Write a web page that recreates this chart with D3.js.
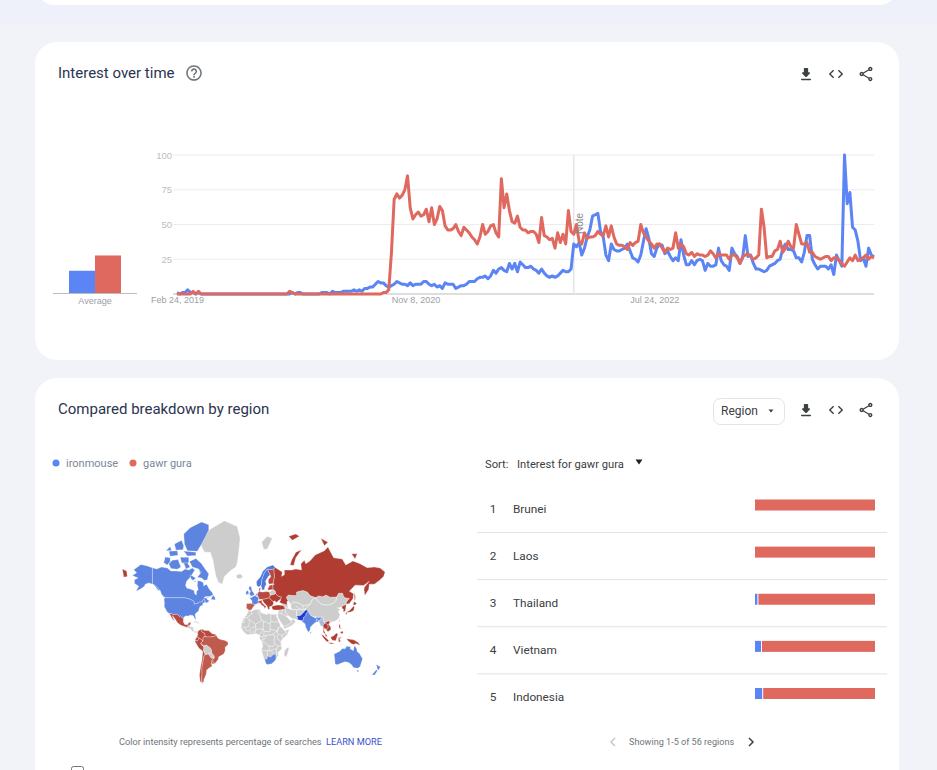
<!DOCTYPE html>
<html><head><meta charset="utf-8">
<script src="https://cdn.jsdelivr.net/npm/d3@7"></script>
<style>
html,body{margin:0;padding:0;background:#f1f3f8;overflow:hidden}
svg{display:block}
text{font-family:Roboto,sans-serif}
.ax text{font-family:"Liberation Sans",Arial,sans-serif}
</style></head><body><svg id="c" width="937" height="770"></svg>
<script>
// ---------- data ----------
const startDate = new Date(2019,1,24);
const ironmouse = [
1,0,1,1,3,1,1,0,1,0, 0,0,0,0,0,0,0,0,0,0, 0,0,0,0,0,0,0,0,0,0, 0,0,0,0,0,0,0,0,0,0,
0,0,0,1,0,1,1,0,0,0, 0,0,0,0,1,1,1,0,2,1, 1,1,2,2,2,2,3,2,3,2, 4,4,5,5,7,9,8,8,6,5,
6,7,9,8,7,7,6,8,6,7, 7,7,9,9,7,6,7,5,6,4, 8,7,7,7,4,5,6,6,7,9, 9,9,11,12,12,13,11,13,17,15,
18,19,17,16,22,18,22,16,23,21, 19,19,20,18,17,15,18,15,13,12, 13,12,13,15,17,16,16,18,36,34,
37,28,33,41,46,56,57,58,45,41, 28,24,36,32,31,31,32,33,36,31, 26,25,23,28,38,47,40,29,27,33,
36,35,29,31,27,24,26,24,39,28, 21,21,24,21,24,25,24,17,22,20, 20,21,33,24,21,20,17,33,29,27,
22,26,42,27,28,22,18,18,17,16, 17,20,21,22,24,25,33,36,32,32, 31,26,26,23,30,42,42,25,21,18,
20,20,20,18,21,14,28,24,20,100, 65,73,48,46,38,24,26,20,33,28,27];
const gawrGura = [
0,0,0,0,0,0,2,0,2,0, 0,0,0,0,0,0,0,0,0,0, 0,0,0,0,0,0,0,0,0,0, 0,0,0,0,0,0,0,0,0,0,
0,0,2,1,0,0,0,0,0,0, 0,0,0,0,0,0,0,0,0,0, 0,0,0,0,0,0,0,0,0,0, 0,0,0,0,0,0,0,1,1,3,
30,68,72,69,71,75,85,62,54,57, 59,56,57,61,52,62,50,54,63,60, 49,46,46,47,50,45,42,48,46,44, 41,39,36,41,50,43,45,49,50,44,
41,83,62,72,60,52,51,56,48,46, 46,44,45,45,43,37,55,42,41,39, 40,33,44,37,43,36,60,45,43,50,
38,36,44,40,41,41,42,45,43,42, 49,41,49,41,36,35,35,34,32,37, 35,37,38,50,44,41,38,36,33,36,
36,33,30,33,32,33,44,33,36,34, 29,28,30,27,29,28,28,27,28,31, 29,26,29,28,28,28,25,28,28,26,
22,27,28,29,27,25,26,28,61,48, 26,27,27,31,32,38,30,33,38,34, 33,50,43,36,36,37,30,30,27,26,
25,26,27,27,24,26,26,24,22,20, 23,26,24,28,24,25,26,28,25,27,26];
const averages = [16,27];
const seriesNames = ["ironmouse","gawr gura"];
const yTicks = [25,50,75,100];
const xTickDates = [new Date(2019,1,24),new Date(2020,10,8),new Date(2022,6,24)];
const noteDate = new Date(2021,11,26);
const regions = ["Brunei","Laos","Thailand","Vietnam","Indonesia"];
const regionIron = [0,0,2,5,6];
const regionGura = [100,100,98,95,94];

// map shapes, [lon,lat]
const cBlue="#5b84e0", cBlue2="#4f78dc", cDeep="#1f3dcf", cRed="#b13d33", cRed2="#c05a4e", cRed3="#b84a3f", cGray="#cdcdcd", cBlueLt="#a9b8dc";
const canada=[[-141,69.6],[-135,69],[-128,70],[-120,69.5],[-115,68],[-108,68],[-100,67.8],[-95,69],[-90,68.5],[-85,69.5],[-81.5,68.5],[-87,65],[-93,62],[-94.5,59],[-92.5,57],[-88,56.5],[-82.5,55.2],[-82,52.9],[-79.5,51.3],[-79,54.5],[-76.8,56],[-78,59],[-77.5,62.4],[-73,62],[-69.5,61],[-69,58.7],[-65,60],[-61.5,56.5],[-57,53.5],[-55.8,52],[-60,50.2],[-66.5,50.2],[-69,48.5],[-65,49],[-64.5,47.5],[-61,46],[-64,44.5],[-66,44],[-67,44.9],[-67.8,47],[-69.2,47.4],[-71.5,45],[-75,45],[-76.5,44],[-79,43.3],[-82.5,42.8],[-82.5,45.3],[-84.8,46.5],[-89.6,48],[-94.6,48.7],[-95.2,49],[-123,49],[-125,50],[-128,52],[-130,55],[-133,57],[-137.5,58.9],[-141,60.3]];
const usa=[[-124.7,48.4],[-123,49],[-95.2,49],[-94.6,48.7],[-89.6,48],[-84.8,46.5],[-82.5,45.3],[-82.5,42.8],[-79,43.3],[-76.5,44],[-75,45],[-71.5,45],[-69.2,47.4],[-67.8,47],[-67,44.9],[-70.5,43.5],[-70.5,41.7],[-74,40.6],[-75.5,38],[-76,35.5],[-78.5,33.8],[-81.2,31.5],[-80.2,27],[-80.4,25.2],[-81.8,26],[-82.8,28.5],[-84,30],[-86,30.4],[-89.5,30.2],[-89.5,29.2],[-93.5,29.7],[-97,28],[-97.2,25.9],[-99.5,27.5],[-101.5,29.8],[-103,29],[-106.5,31.8],[-111,31.3],[-114.8,32.5],[-117.2,32.5],[-120.5,34.5],[-122.5,37.5],[-124.4,40.3],[-124.1,44]];
const alaska=[[-141,69.6],[-141,60.3],[-137.5,58.9],[-133,55.5],[-130,55],[-134,58],[-139,59.7],[-146,60.8],[-151,60],[-152,58.5],[-158,56.3],[-164,54.7],[-160,58.5],[-166,60.5],[-166,63],[-161,64],[-169,65.5],[-163,67],[-167,68.7],[-157,71.2],[-148,70.5]];
const arctic=[
[[-80,73.7],[-72,71.5],[-67,69],[-62,66.5],[-64,63],[-68,62.5],[-72,64],[-78,64.5],[-73,67],[-76,69],[-85,70],[-89,72.5]],
[[-118,71.5],[-113,73],[-105,73.3],[-101,70],[-106,68.9],[-115,69.3]],[[-125,72],[-123,74.3],[-116,74],[-116,72.5],[-120,71]],
[[-92,76.5],[-78,76.3],[-72,78.5],[-62,81.8],[-62,82.8],[-72,83.3],[-88,82.3],[-97,81],[-96,78.5]],[[-97,76.4],[-80,76],[-80,74.8],[-92,74.7]],
[[-118,76.3],[-106,76.5],[-105,74.9],[-116,74.6]],[[-102,74.2],[-90,74.2],[-90,72],[-95,71.5],[-100,72]],[[-97,72],[-92,72],[-88,70],[-94,69]],[[-88,66],[-80,64],[-84,62.5],[-87,63.5]],
[[-59,47.7],[-53,46.8],[-53,49],[-56,51.5]],[[-128.3,50.7],[-123.5,48.4],[-125,48.7]],[[-110,78.5],[-100,79.5],[-97,78],[-98,76.8],[-108,76.7]],[[-122,76.5],[-116,77.8],[-114,76.6]],
[[-75,68],[-72,67.5],[-74,66.5]],[[-80,62.5],[-80,61.5],[-83,62]],[[-64,49.9],[-61.5,49.3],[-64,49.1]]];
const greenland=[[-73,78.2],[-68,80.5],[-60,82],[-40,83.5],[-22,82.5],[-18,80],[-20,76],[-22,72],[-24,70],[-32,68],[-40,65],[-43,60],[-48,61],[-52,65],[-54,69],[-56,73],[-60,76],[-68,76]];
const mexico=[[-117.2,32.5],[-114.8,32.5],[-111,31.3],[-106.5,31.8],[-103,29],[-101.5,29.8],[-99.5,27.5],[-97.2,25.9],[-97.8,22.5],[-96,19],[-94,18.2],[-91,18.7],[-90.5,21],[-87,21.5],[-88,18],[-91,17.2],[-92.3,14.6],[-96,15.8],[-101,17.5],[-105.5,20.5],[-109,25.5],[-112.8,30],[-112,27],[-109.8,23],[-112.5,25],[-115,29]];
const grayLand=[greenland,
[[-24,65.5],[-18,66.5],[-14,65],[-18,63.4],[-22.5,64]],
[[12,79],[20,80.5],[27,80],[20,77],[15,77]],
[[-92.3,14.6],[-91,17.2],[-88,18],[-88.5,16],[-83.5,15],[-83.5,11],[-82,9],[-79.5,9.5],[-77.5,8.6],[-78,7.5],[-80.5,7.3],[-83,8.3],[-85.7,10],[-87.5,13],[-90,13.7]],
[[-85,22],[-80,23],[-74.2,20.2],[-77.5,19.9],[-78,21]],
[[-69,-10.9],[-65.3,-9.8],[-60,-13.5],[-58,-16.3],[-58,-20],[-62.5,-22],[-67,-22.8],[-69.5,-17.5],[-69,-12.5]],
[[-62.5,-22],[-58,-20],[-54.5,-24],[-55,-27.3],[-58.5,-27.2]],
[[-6,35.8],[-2,35.2],[3,36.9],[10,37.3],[11,33.5],[15,32.3],[20,31],[20,32.8],[25,31.7],[32,31.2],[34.2,31.3],[32.8,29],[35.5,24],[37.3,20],[39,15.5],[43.2,11.5],[44.5,10.4],[51.2,11.8],[48,5],[41,-2],[39,-6],[40.5,-15],[35,-20],[35.5,-24],[32.8,-26.5],[31,-30],[26,-34],[20,-34.8],[18.3,-34],[15,-27],[11.8,-17],[13.7,-11],[12,-5],[9,0],[9.7,4],[5,6],[-4,5],[-8,4.5],[-13,8.5],[-17,14.7],[-16,20],[-13,27.5],[-9.5,30]],
[[49.5,-12],[50.3,-16],[47,-25],[44,-25],[43.5,-21],[44.5,-16.5]],
[[47,50],[50,51.5],[55,51],[61,51],[61,54],[70,55.3],[76,54],[80,51],[87.5,49.2],[83,47],[80,42.5],[70,41],[66,43],[62,44],[56,45],[53,42],[51,44.5],[49,46.5],[47,48.5]],
[[53,42],[56,45],[62,44],[66,43],[70,41],[80,42.5],[74,38.5],[71,36.5],[66,37.3],[61,36.6],[54,37.3],[53,39.5]],
[[40,43.5],[48,42],[49.5,40],[48,38.5],[44.5,39.5],[41.5,41.5]],
[[44.5,39.5],[48,38.5],[54,37],[61,36.6],[61,31],[63,27],[61.6,25],[57,26],[54,26.5],[50.5,29.5],[48.5,30],[46,33],[44.5,37.2]],
[[61,36.6],[66,37.3],[71,36.5],[74.5,37],[70,33],[66.5,30],[61,29.5],[61,31]],
[[36,36.5],[44.5,37.2],[46,33],[48.5,30],[47.5,28.5],[50,26],[51.5,24.5],[54,24],[56.3,26],[59.8,22.5],[55,17.5],[45,13],[43.3,12.8],[42.5,16.5],[39,21.5],[35,28],[34.5,31.5],[35.5,34]],
[[74,38.5],[80,42.5],[83,47],[87.5,49.2],[92,45],[96,42.7],[105,41.8],[112,43.7],[116,46],[117,49.7],[120,53],[125.5,53],[127,50],[130,48.8],[135,48.4],[131,45],[130.6,42.4],[127,41.5],[124.3,40],[121.5,39],[118,39],[122.5,37],[119.5,35],[122,31],[120,26],[114,22.5],[108,21.5],[106,23],[102,22],[99,22],[98,28],[97,28],[92,27.5],[88.2,28],[81,30],[79,32.5],[77,35],[74.5,37]],
[[87.5,49.2],[92,50.7],[98,50],[102,51.4],[108,49.5],[117,49.7],[116,46],[112,43.7],[105,41.8],[96,42.7],[92,45]],
[[23,54],[24,51],[32,52.5],[31,55],[28,56],[24,54.5]]];
const borderLines=[
[[-2,35],[-1.5,32],[-8.7,27.5],[-13,27.5]],[[-8.7,27.5],[-4.8,25],[-6,15.5],[-12,14.8],[-16.5,16]],[[-4.8,25],[3.3,19],[12,23.5],[10,30],[8,33],[8.5,37]],
[[12,23.5],[15,23],[24,19.5],[25,22],[25,31.7]],[[25,22],[36.8,22]],[[3.3,19],[4,15.3],[-1,15],[-5,10.5],[-8,10],[-11,12.5],[-12,14.8]],
[[4,15.3],[3.8,11.8],[14,13],[15,23]],[[14,13],[15.5,9],[24,8.7],[24,19.5]],[[24,12],[34,10],[36,14.5],[39,16]],[[3,6.5],[3.8,11.8]],[[9,4.5],[14,11],[14,13]],
[[-3,5],[-3,11]],[[1,6],[1,11]],[[15.5,9],[15,3.5],[18.5,3.5],[27,5],[34,10]],[[36,14.5],[34,8],[35.5,5],[41,4],[47.5,8],[43,11]],[[41,4],[41,-1.5]],[[34,4.5],[34,-1],[39.5,-4.7]],
[[12.5,-6],[16,-6],[22,-11],[28,-12],[30,-8],[29.5,-1.5],[31,3],[27,5]],[[18.5,3.5],[16.5,-1],[12.5,-5]],[[9.5,2.2],[14,2.2],[14,-2],[11,-3.5]],[[12,-17.2],[23,-17.5],[22,-11]],
[[30,-8],[35,-11.5],[40.4,-10.5]],[[35,-11.5],[33,-15],[33,-24]],[[23,-17.5],[30,-15.5],[33,-14]],[[20,-18],[20,-25]],[[25,-18],[29,-22]],
[[36,32],[39,32.5],[42,37]],[[47.5,28.5],[41,32],[39,32.5]],[[42.5,16.5],[47,17],[52,20],[55,22],[51.5,24.5]],[[-12,27.5],[-13,21],[-17,21]],[[60,41],[66,37.3]],[[70,41],[70,37]]];
const redDark=[
[[31,69.8],[41,67.5],[40,65],[44,66],[44,68.5],[54,68.5],[60,69],[68,68.5],[67,71.5],[72,73],[74,71.5],[80,72.8],[87,75],[100,76.5],[105,77.7],[113,74],[125,73.5],[130,71],[140,72.7],[150,71.5],[160,69.7],[170,70],[178,69.5],[185,67.5],[183,65],[177,62.5],[170,60],[163,60],[162,56],[156.7,51],[155.5,56],[156,57.8],[163,62],[155,59],[143,59.3],[135,54.7],[141,52.5],[140,48],[135,43.5],[131,42.7],[130.6,42.4],[131,45],[135,48.4],[130,48.8],[127,50],[125.5,53],[120,53],[117,49.7],[108,49.5],[102,51.4],[98,50],[92,50.7],[87.5,49.2],[80,51],[76,54],[70,55.3],[61,54],[61,51],[55,51],[50,51.5],[47,50],[47,48.5],[49,46.5],[47.5,45],[48,42],[43,43],[40,43.5],[37,45],[39,47],[38.3,47.5],[40,49.5],[35,50.5],[32,52.5],[31,55],[28,56],[27.5,59.5],[30,60],[28,60.5],[30,65],[29,69]],
[[52,71],[57,70.7],[60,74],[68,76.8],[60,76],[54,73]],[[142,54.3],[143.5,50],[143,46.5],[142,47],[142,52]],[[138,75.5],[146,75.5],[143,73.5]],
[[50,80.5],[60,81],[65,80.5],[55,79.5]],[[95,80],[105,79],[100,78]],[[-183,69],[-177,68],[-176,65],[-181,64.5]],
[[13.5,46.5],[13,47.5],[17,48],[22.5,49],[28,45.5],[29,44],[27.5,41.5],[26,40.8],[23,40],[23.5,37.5],[21.5,37],[19.5,41],[15,44.5]],
[[24,51],[32,52.5],[35,50.5],[40,49.5],[38.3,47.5],[35,46],[33.5,44.5],[30.5,46],[28,45.5],[22.5,49]],
[[26,40],[29,41.2],[35,42],[41.5,41.5],[44.5,39.5],[44.5,37.2],[36,36.5],[30.5,36.5],[27.5,37]],
[[101,21],[105,18],[105.5,14.5],[102.5,12],[100,13.5],[99.5,10],[101.5,6.8],[100,6.5],[98.3,8],[98.5,12],[98,18]],
[[102,22],[106,23],[108,21.5],[105.8,19],[109,15],[109,11.5],[105,8.7],[103,11],[102.5,12],[105.5,14.5],[105,18],[101,21]],
[[100.5,6.3],[103.5,4],[104,1.4],[101.5,2.8]],[[95.3,5.6],[98,4],[104,-1.5],[106,-3.5],[105.3,-5.8],[102,-4],[98,1]],[[105.5,-6.5],[110,-6.5],[114.5,-7.8],[110,-8.3],[106,-7.5]],
[[109,1.5],[113,3],[117,7],[119,5],[117.5,1],[116,-4],[111,-3],[109,0]],[[119.5,0.5],[125,1.3],[121,-1],[123,-5],[120,-5.5]],[[131,-1],[141,-2.6],[147,-6],[150.5,-10.5],[144,-7.7],[141,-9],[138,-8],[133,-4]],
[[120.5,18.5],[122.3,18.3],[122,15],[124,13],[120.5,14]],[[122,8],[125.5,9.8],[126.5,7],[124,6]],
[[130.9,34],[136,36.5],[140,40],[141.5,41],[142,39],[140.8,35.5],[136.5,34.2],[132,33.5]],[[140,42],[141.7,45.5],[145.3,43.5],[143,42]],[[130,33.5],[132,33.5],[131,31],[130,31.5]],
[[124.3,40],[127,41.5],[130.6,42.4],[129.5,36],[129,35],[126.3,34.5],[126.7,37.5],[125,38]],[[120.2,23],[121.5,25.2],[121,22]]];
const redMid=[mexico,
[[-77.5,8.6],[-75,11],[-71.5,12.4],[-72,9],[-67.5,6.2],[-67,2],[-70,1],[-70,-4.2],[-73,-2],[-75,0],[-78.8,1.4],[-77.5,4]],
[[-71.5,12.4],[-68,10.6],[-62,10.6],[-60,8.5],[-57,6],[-52,5],[-51.5,4],[-54,2.3],[-60,1.5],[-64,1.5],[-67,2],[-67.5,6.2],[-72,9]],
[[-80.9,-2],[-78.8,1.4],[-75,0],[-78,-4.5],[-80.3,-3.4]],
[[-81.3,-5],[-80.3,-3.4],[-78,-4.5],[-75,0],[-73,-2],[-70,-4.2],[-73.5,-7.5],[-70.5,-11],[-69,-12.5],[-69.5,-17.5],[-70.4,-18.3],[-76,-14]],
[[-70.4,-18.3],[-69.5,-17.5],[-67,-22.8],[-68.5,-24],[-69.8,-30],[-71.5,-38],[-71.5,-45],[-72,-52],[-68.5,-54.5],[-74,-52],[-75,-46],[-73.5,-38],[-71.5,-30]],
[[6,51],[7,53.5],[9,54.8],[11,54],[14,54],[19,54.4],[23,54],[24,51],[22.5,49],[17,48],[13,47.5],[8,47.6],[8.2,49]],
[[7.5,43.8],[6.8,46],[13,46.7],[12.3,44.5],[16,41.8],[18.5,40],[16,38],[15.7,40],[12,42],[9.5,44.2]],
[[20,69],[25,68.8],[29,69],[30,65],[28,60.5],[23,60],[21.5,61],[21.5,63],[25,65],[24,66]],
[[21,55.5],[28,56],[27.5,59.5],[23.5,59.3],[21,57]],[[8.2,55],[8.5,57],[10.5,57.5],[10,55]]];
const redLight=[
[[-51.5,4],[-50,1],[-48,-1],[-44,-2.5],[-40,-3],[-35.2,-5.5],[-35,-9],[-39,-13],[-39,-18],[-41,-22],[-48,-25.5],[-48.6,-28.5],[-53.5,-34],[-57.5,-30],[-54,-26.5],[-54.5,-24],[-58,-20],[-58,-16.3],[-60,-13.5],[-65.3,-9.8],[-69,-10.9],[-73.5,-7.5],[-70,-4.2],[-70,1],[-67,2],[-64,1.5],[-60,1.5],[-54,2.3]],
[[-67,-22.8],[-62.5,-22],[-58.5,-27.2],[-55,-27.3],[-57.5,-30],[-58.4,-34],[-57,-36.5],[-62,-39],[-65,-41],[-65.5,-45],[-69,-50.5],[-68.5,-52.5],[-72,-52],[-71.5,-45],[-71.5,-38],[-69.8,-30],[-68.5,-24]],
[[-57.5,-30],[-53.5,-34],[-58.4,-34]],
[[-9,43.5],[-1.8,43.4],[3.1,42.4],[0,39.5],[-2,36.8],[-5.5,36],[-7,37.2],[-9.3,38.5]]];
const blueMain=[canada,usa,alaska,...arctic,
[[113.5,-22],[114.2,-26],[115,-34.3],[118,-35],[124,-33],[129,-31.5],[134,-32.5],[138,-35],[141,-38.3],[146.5,-39],[150,-37.3],[153.5,-28],[149,-21],[146,-19],[145.3,-15],[142.5,-10.8],[141.5,-13],[140.7,-17.5],[136,-15],[136.8,-12.2],[131,-11.5],[129,-15],[125,-14.5],[122,-18],[116,-20.8]],
[[145,-41],[148.3,-41],[147,-43.5]],[[172.8,-34.5],[178.5,-37.7],[175.5,-41.5],[174,-39]],[[172.7,-40.6],[174.3,-41.7],[170.5,-46],[166.5,-46]],
[[16.5,-28.5],[20,-28],[20,-24.8],[25,-25.7],[29,-22.3],[32,-22.5],[32,-26.5],[32.8,-26.8],[31,-30],[26,-34],[20,-34.8],[18.3,-34]],
[[74,32],[77,35],[79,32.5],[81,30],[88,26.5],[88.2,28],[92,27.5],[97,28],[94,24],[92,23],[89,26],[88.5,22],[85,19.5],[80.3,15],[80,11],[77.5,8],[74,14.5],[72.8,19.5],[69,22.3],[68,23.7],[71,24.5],[70,27],[74,30]],
[[89,26],[92,23],[91,22],[88.5,22]],[[80,9.7],[81.8,7.5],[80.5,6]],
[[-5.5,50],[1.3,51.2],[1.7,52.8],[-0.2,54],[-2,56],[-2,57.7],[-5,58.6],[-6,56.5],[-3.2,54.7],[-4.5,53.3],[-5,51.8],[-3,51.3]],
[[-10,52],[-6.2,52.2],[-6,54],[-7.5,55.3],[-10,54.2]],
[[-1.8,43.4],[3.1,42.4],[7.5,43.8],[6.8,46],[8.2,49],[2.5,51],[-1.5,49.5],[-4.7,48.5],[-1.2,46]],[[2.5,51],[4,52],[7,53.5],[6,51]]];
const blueNordic=[
[[5,60],[5,62],[10,64.5],[14,68],[20,70],[28,71],[31,69.8],[29,69],[25,68.8],[20,69],[16,67],[14,65],[12,62],[12,60],[10.8,59],[8,58],[5.5,58.8]],
[[12,60],[12,62],[14,65],[16,67],[20,69],[24,66],[21.5,65],[17.3,62],[18.8,60],[16.5,58],[16,56],[13,55.4],[11.2,59]]];
const blueDeep=[[[61,29.5],[66.5,30],[70,33],[74.5,37],[77,35],[74,32],[74,30],[70,27],[71,24.5],[68,23.7],[61.6,25],[63,27]]];
const blueLight=[[[92,23],[94,24],[97,28],[98,28],[99,22],[101,21],[98,18],[98.5,12],[97.5,16.5],[95,16],[94,19]]];

// ---------- drawing ----------
const svg=d3.select("#c");
const blue="#5b84f5", red="#e0695f";
const defs=svg.append("defs");
defs.append("filter").attr("id","soft").attr("x","-5%").attr("y","-5%").attr("width","110%").attr("height","110%").append("feGaussianBlur").attr("stdDeviation",.3);
svg.append("rect").attr("width",937).attr("height",23).attr("fill","#eef0fa");
svg.append("rect").attr("x",35).attr("y",-40).attr("width",864).attr("height",45).attr("rx",20).attr("fill","#fff");
[[42,318],[378,500]].forEach(([y,h])=>svg.append("rect").attr("x",35).attr("y",y).attr("width",864).attr("height",h).attr("rx",22).attr("fill","#fff"));

const ink="#3c4043";
const title=(t,x,y)=>svg.append("text").attr("x",x).attr("y",y).attr("font-size",15).attr("fill","#2b3350").text(t);
title("Interest over time",58,78); title("Compared breakdown by region",58,414);

const iconDl="M16.59 9H15V4c0-.55-.45-1-1-1h-4c-.55 0-1 .45-1 1v5H7.41c-.89 0-1.34 1.08-.71 1.71l4.59 4.59c.39.39 1.02.39 1.41 0l4.59-4.59c.63-.63.19-1.71-.7-1.71zM5 19c0 .55.45 1 1 1h12c.55 0 1-.45 1-1s-.45-1-1-1H6c-.55 0-1 .45-1 1z";
const iconCode="M9.4 16.6L4.8 12l4.6-4.6L8 6l-6 6 6 6 1.4-1.4zm5.2 0l4.6-4.6-4.6-4.6L16 6l6 6-6 6-1.4-1.4z";
const iconShare="M18 16.08c-.76 0-1.44.3-1.96.77L8.91 12.7c.05-.23.09-.46.09-.7s-.04-.47-.09-.7l7.05-4.11c.54.5 1.25.81 2.04.81 1.66 0 3-1.34 3-3s-1.34-3-3-3-3 1.34-3 3c0 .24.04.47.09.7L8.04 9.81C7.5 9.31 6.79 9 6 9c-1.66 0-3 1.34-3 3s1.34 3 3 3c.79 0 1.5-.31 2.04-.81l7.12 4.16c-.05.21-.08.43-.08.65 0 1.61 1.31 2.92 2.92 2.92s2.92-1.31 2.92-2.92-1.31-2.92-2.92-2.92zM18 4c.55 0 1 .45 1 1s-.45 1-1 1-1-.45-1-1 .45-1 1-1zM6 13c-.55 0-1-.45-1-1s.45-1 1-1 1 .45 1 1-.45 1-1 1zm12 7.02c-.55 0-1-.45-1-1s.45-1 1-1 1 .45 1 1-.45 1-1 1z";
const iconHelp="M11 18h2v-2h-2v2zm1-16C6.48 2 2 6.48 2 12s4.48 10 10 10 10-4.48 10-10S17.52 2 12 2zm0 18c-4.41 0-8-3.59-8-8s3.59-8 8-8 8 3.59 8 8-3.59 8-8 8zm0-14c-2.21 0-4 1.79-4 4h2c0-1.1.9-2 2-2s2 .9 2 2c0 2-3 1.75-3 5h2c0-2.25 3-2.5 3-5 0-2.21-1.79-4-4-4z";
const icon=(d,cx,cy,s,f)=>svg.append("path").attr("d",d).attr("fill",f).attr("fill-rule","evenodd").attr("transform",`translate(${cx-12*s},${cy-12*s}) scale(${s})`);
[74,410].forEach(cy=>{icon(iconDl,806,cy+.5,.72,"#3c4043");icon(iconCode,836,cy,.72,"#3c4043");icon(iconShare,866,cy,.72,"#3c4043");});
icon(iconHelp,194,73,.78,"#70757a");

// line chart
const weeks=ironmouse.map((_,i)=>d3.timeWeek.offset(startDate,i));
const x=d3.scaleTime().domain([weeks[0],weeks[weeks.length-1]]).range([177,874]);
const y=d3.scaleLinear().domain([0,100]).range([294,155]);
const ticksY=d3.axisLeft(y).tickValues(yTicks).tickSize(0).tickPadding(0);
const gy=svg.append("g").attr("class","ax").attr("transform","translate(172,0)").call(ticksY);
gy.select(".domain").remove();
gy.selectAll("text").attr("font-size",9.5).attr("fill","#bdbdbd");
svg.append("g").selectAll("line").data(yTicks).join("line").attr("x1",173).attr("x2",874).attr("y1",d=>y(d)).attr("y2",d=>y(d)).attr("stroke","#ececec");
svg.append("line").attr("x1",173).attr("x2",874).attr("y1",y(0)).attr("y2",y(0)).attr("stroke","#bdbdbd").attr("stroke-width",1.2);
const gx=svg.append("g").attr("class","ax").attr("transform","translate(0,294)").call(d3.axisBottom(x).tickValues(xTickDates).tickSize(0).tickPadding(0).tickFormat(d3.timeFormat("%b %-d, %Y")));
gx.select(".domain").remove();
gx.selectAll("text").attr("font-size",9).attr("fill","#9aa0a6").attr("dy","1.05em");
svg.append("line").attr("x1",x(noteDate)).attr("x2",x(noteDate)).attr("y1",155).attr("y2",294).attr("stroke","#e6e6e6").attr("stroke-width",1.5);
const ln=d3.line().x((d,i)=>x(weeks[i])).y(d=>y(d));
[[ironmouse,blue],[gawrGura,red]].forEach(([s,c])=>svg.append("path").attr("d",ln(s)).attr("fill","none").attr("stroke",c).attr("stroke-width",3).attr("stroke-linejoin","round"));
svg.append("text").attr("class","n").attr("transform",`translate(${x(noteDate)+9},234) rotate(-90)`).style("font-family","'Liberation Sans'").attr("font-size",10).attr("fill","#8a8a8a").text("Note");

// average bars
const xa=d3.scaleBand().domain(seriesNames).range([69,121]);
svg.append("g").selectAll("rect").data(averages).join("rect").attr("x",(d,i)=>xa(seriesNames[i])).attr("width",xa.bandwidth()).attr("y",d=>y(d)-1).attr("height",d=>y(0)-y(d)).attr("fill",(d,i)=>[blue,red][i]);
svg.append("line").attr("x1",53).attr("x2",137).attr("y1",293.5).attr("y2",293.5).attr("stroke","#bdbdbd");
svg.append("text").attr("x",95).attr("y",304).attr("text-anchor","middle").style("font-family","'Liberation Sans'").attr("font-size",9).attr("fill","#9aa0a6").text("Average");

// region button
svg.append("rect").attr("x",713.5).attr("y",398.5).attr("width",71).attr("height",26).attr("rx",7).attr("fill","#fff").attr("stroke","#e3e3e3");
svg.append("text").attr("x",721).attr("y",415).attr("font-size",12).attr("fill",ink).text("Region");
const tri=(cx,cy,w,h,f)=>svg.append("path").attr("d",`M${cx-w/2} ${cy-h/2}h${w}l${-w/2} ${h}z`).attr("fill",f);
tri(771,411,5,3,"#3c4043");

// legend
const legendX=[56,133];
seriesNames.forEach((n,i)=>{
  svg.append("circle").attr("cx",legendX[i]).attr("cy",463).attr("r",3.5).attr("fill",[blue,red][i]);
  svg.append("text").attr("x",legendX[i]+10).attr("y",467).attr("font-size",11).attr("fill","#7b8798").text(n);
});

// map
const merc=d3.geoMercator().scale(40.9).translate([253,638]);
const lonX=d3.scaleLinear().domain([-180,180]).range([253-128.5,253+128.5]);
const shape=d3.line().x(d=>lonX(d[0])).y(d=>merc([0,d[1]])[1]);
const mapG=svg.append("g").attr("filter","url(#soft)");
const drawSet=(list,fill,sw)=>mapG.append("g").selectAll("path").data(list).join("path").attr("d",d=>shape(d)+"Z").attr("fill",fill).attr("stroke","#fff").attr("stroke-width",sw).attr("stroke-linejoin","round");
drawSet(grayLand,cGray,.4);
mapG.append("g").selectAll("path").data(borderLines).join("path").attr("d",shape).attr("fill","none").attr("stroke","#fff").attr("stroke-width",.55);
drawSet(redDark,cRed,.3);drawSet(redMid,cRed3,.3);drawSet(redLight,cRed2,.3);
drawSet(blueMain,cBlue,.3);drawSet(blueNordic,cBlue2,.3);drawSet(blueDeep,cDeep,.3);drawSet(blueLight,cBlueLt,.3);

// sort control
svg.append("text").attr("x",485).attr("y",468).attr("font-size",11.2).attr("fill",ink).text("Sort:");
svg.append("text").attr("x",517).attr("y",468).attr("font-size",11.2).attr("fill",ink).text("Interest for gawr gura");
tri(639,462,7,5,"#202124");

// region table
const rowY=d3.scaleLinear().domain([0,4]).range([505,693.5]);
const xb=d3.scaleLinear().domain([0,100]).range([755,875]);
const rows=svg.append("g").selectAll("g").data(regions).join("g");
rows.append("text").attr("x",493).attr("y",(d,i)=>rowY(i)+7.5).attr("text-anchor","middle").attr("font-size",11.8).attr("fill",ink).text((d,i)=>i+1);
rows.append("text").attr("x",513).attr("y",(d,i)=>rowY(i)+7.5).attr("font-size",11.8).attr("fill",ink).text(d=>d);
rows.append("rect").attr("x",xb(0)).attr("y",(d,i)=>rowY(i)-5.5).attr("height",11).attr("width",(d,i)=>xb(regionIron[i])-xb(0)).attr("fill",blue);
rows.append("rect").attr("x",(d,i)=>regionIron[i]?xb(regionIron[i])+1:xb(0)).attr("y",(d,i)=>rowY(i)-5.5).attr("height",11).attr("width",(d,i)=>xb(regionGura[i])-xb(0)-(regionIron[i]?1:0)).attr("fill",red);
svg.append("g").selectAll("line").data(regions.slice(0,4)).join("line").attr("x1",477).attr("x2",887).attr("y1",(d,i)=>rowY(i)+27.5).attr("y2",(d,i)=>rowY(i)+27.5).attr("stroke","#e2e2e2");

// footers
svg.append("text").attr("x",119).attr("y",745).attr("font-size",9.2).attr("fill","#70757a").text("Color intensity represents percentage of searches");
svg.append("text").attr("x",326).attr("y",745).attr("font-size",9.2).attr("fill","#3a4fd0").text("LEARN MORE");
svg.append("text").attr("x",629).attr("y",745).attr("font-size",9.1).attr("fill","#70757a").text("Showing 1-5 of 56 regions");
const chev=(cx,dir,c)=>svg.append("path").attr("d",`M${cx-dir*2} 738l${dir*4} 4l${-dir*4} 4`).attr("fill","none").attr("stroke",c).attr("stroke-width",1.5);
chev(613,-1,"#c4c7cc");chev(751,1,"#3c4043");
svg.append("rect").attr("x",71.5).attr("y",766.5).attr("width",12).attr("height",12).attr("rx",2).attr("fill","#fff").attr("stroke","#70757a");
</script></body></html>
